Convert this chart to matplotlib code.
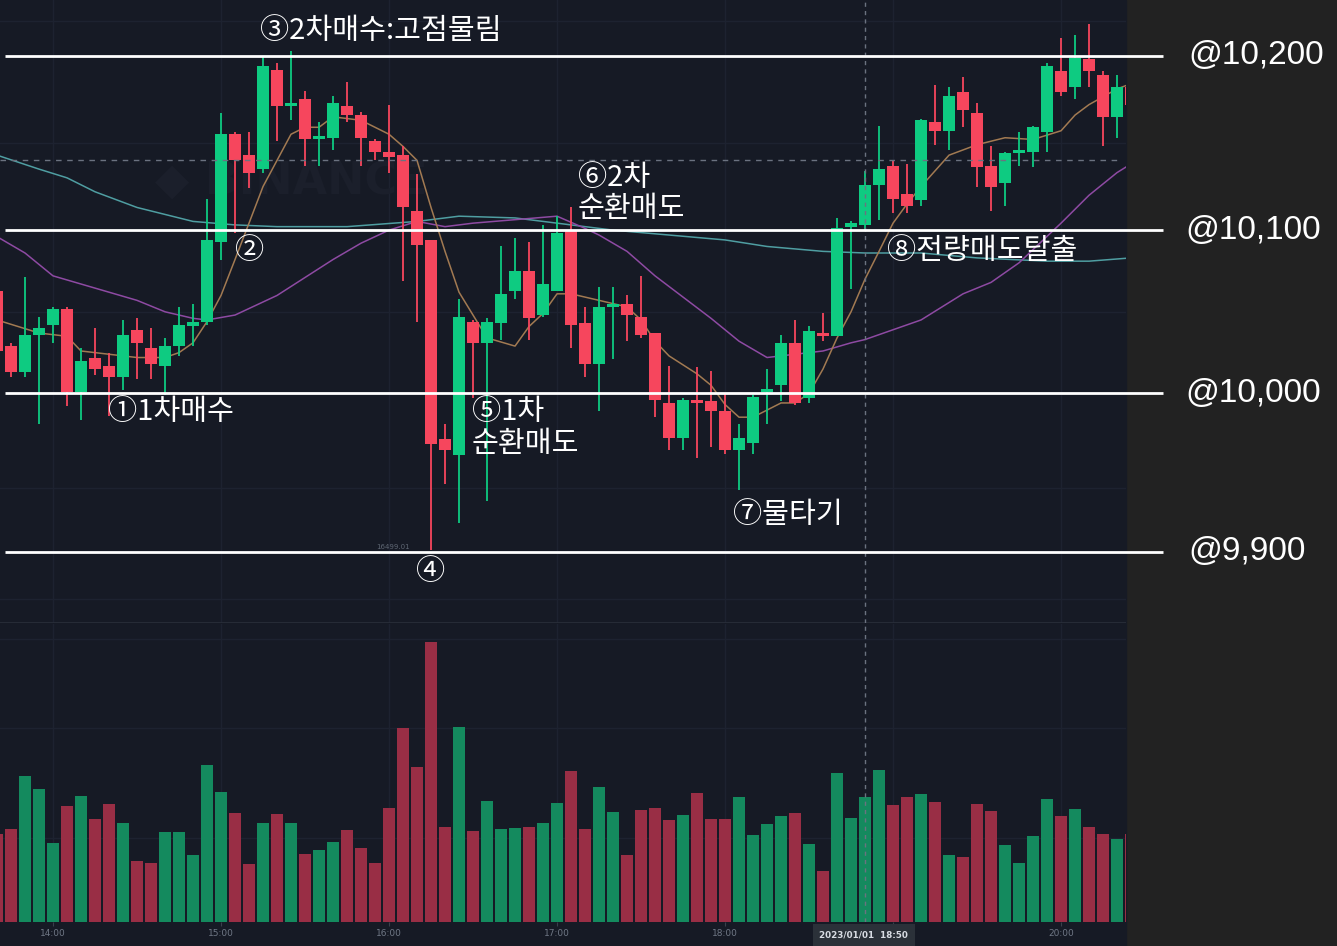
import numpy as np
import pandas as pd
import matplotlib
matplotlib.use('Agg')
import matplotlib.pyplot as plt

# 5분봉 데이터 (13:40 ~ 20:25)
opens = [10063, 10029, 10013, 10036, 10042, 10052, 10001, 10022, 10017, 10010,
         10039, 10028, 10017, 10029, 10041, 10044, 10093, 10155, 10143, 10135,
         10192, 10171, 10175, 10152, 10153, 10171, 10166, 10151, 10145, 10143,
         10111, 10094, 9971, 9961, 10044, 10031, 10043, 10063, 10075, 10048,
         10063, 10100, 10043, 10018, 10053, 10055, 10047, 10037, 9994, 9972,
         9996, 9995, 9989, 9964, 9969, 10001, 10005, 10031, 9997, 10037,
         10035, 10102, 10103, 10126, 10137, 10121, 10117, 10162, 10157, 10179,
         10167, 10137, 10127, 10144, 10145, 10156, 10191, 10182, 10198, 10189,
         10165, 10182]
highs = [10066, 10031, 10071, 10047, 10053, 10053, 10028, 10040, 10025, 10045,
         10046, 10040, 10034, 10053, 10055, 10118, 10167, 10156, 10156, 10200,
         10196, 10203, 10180, 10162, 10177, 10185, 10168, 10152, 10172, 10148,
         10132, 10094, 9981, 10058, 10045, 10046, 10090, 10095, 10093, 10103,
         10108, 10113, 10053, 10065, 10065, 10060, 10072, 10037, 10017, 9997,
         10016, 10014, 10000, 9981, 9999, 10015, 10036, 10045, 10041, 10049,
         10107, 10105, 10134, 10160, 10140, 10138, 10164, 10183, 10182, 10188,
         10173, 10148, 10145, 10156, 10160, 10196, 10210, 10212, 10218, 10191,
         10189, 10184]
lows = [10020, 10010, 10010, 9981, 10031, 9992, 9983, 10011, 9986, 10002,
        10009, 10009, 9999, 10023, 10029, 10042, 10082, 10098, 10124, 10133,
        10151, 10163, 10137, 10137, 10146, 10162, 10137, 10140, 10133, 10069,
        10044, 9901, 9943, 9918, 9997, 9932, 10033, 10058, 10033, 10047,
        10063, 10028, 10010, 9989, 10021, 10032, 10034, 9985, 9964, 9964,
        9959, 9966, 9962, 9939, 9962, 9981, 9995, 9993, 9994, 10032,
        10035, 10064, 10100, 10106, 10110, 10110, 10114, 10149, 10146, 10159,
        10125, 10111, 10114, 10137, 10136, 10145, 10177, 10175, 10182, 10148,
        10153, 10169]
closes = [10026, 10013, 10036, 10040, 10052, 10001, 10020, 10015, 10010, 10036,
          10031, 10018, 10029, 10042, 10044, 10094, 10155, 10140, 10133, 10194,
          10171, 10173, 10152, 10154, 10173, 10166, 10153, 10145, 10142, 10113,
          10091, 9968, 9964, 10047, 10031, 10044, 10061, 10075, 10046, 10067,
          10098, 10042, 10018, 10053, 10055, 10048, 10036, 9996, 9972, 9996,
          9994, 9989, 9964, 9972, 9998, 10003, 10031, 9994, 10038, 10035,
          10101, 10104, 10126, 10135, 10118, 10114, 10163, 10157, 10177, 10169,
          10136, 10125, 10144, 10146, 10159, 10194, 10179, 10199, 10191, 10165,
          10182, 10172]
volumes = [89, 94, 147, 134, 80, 117, 127, 104, 119, 100,
           61, 59, 91, 91, 67, 158, 131, 110, 58, 100,
           109, 100, 68, 72, 81, 93, 75, 59, 115, 195,
           156, 282, 96, 196, 92, 122, 94, 95, 96, 100,
           120, 152, 94, 136, 111, 67, 113, 115, 103, 108,
           130, 104, 104, 126, 88, 99, 107, 110, 79, 51,
           150, 105, 126, 153, 118, 126, 129, 121, 67, 65,
           119, 112, 78, 59, 87, 124, 107, 114, 96, 89,
           84, 89]
times = pd.date_range('2023-01-01 13:40', periods=len(opens), freq='5min')

# 이동평균선
ma7_idx = [0, 3, 5, 6, 7, 10, 12, 13, 14, 15, 16, 17, 18, 19, 20, 21, 22, 23, 24, 26,
           28, 29, 30, 31, 32, 33, 34, 35, 37, 38, 39, 40, 41, 44, 45, 46, 47, 48, 50, 51,
           52, 53, 54, 56, 57, 58, 59, 60, 61, 62, 63, 64, 65, 66, 68, 70, 72, 74, 76, 77,
           78, 80, 81]
ma7_val = [10045, 10037, 10035, 10026, 10025, 10022, 10022, 10025, 10031, 10044,
           10060, 10082, 10104, 10125, 10140, 10155, 10159, 10159, 10165, 10163,
           10155, 10148, 10140, 10113, 10087, 10062, 10048, 10034, 10029, 10041,
           10049, 10061, 10061, 10055, 10053, 10045, 10032, 10023, 10012, 10005,
           9993, 9985, 9985, 9994, 9994, 10000, 10015, 10034, 10050, 10070,
           10087, 10104, 10115, 10125, 10143, 10149, 10153, 10152, 10157, 10166,
           10172, 10181, 10184]
ma25_idx = [0, 2, 4, 6, 8, 10, 12, 14, 15, 17, 18, 20, 22, 24, 26, 28, 30, 32, 34, 37,
            40, 42, 43, 45, 47, 49, 51, 53, 55, 56, 59, 61, 62, 66, 69, 71, 73, 76, 78, 80, 81]
ma25_val = [10096, 10086, 10072, 10067, 10062, 10057, 10050, 10046, 10045, 10048,
            10052, 10060, 10071, 10082, 10092, 10100, 10105, 10102, 10104, 10106,
            10108, 10101, 10097, 10087, 10072, 10059, 10046, 10032, 10022, 10023,
            10026, 10031, 10033, 10045, 10061, 10068, 10080, 10104, 10120, 10133, 10138]
ma99_idx = [0, 3, 5, 7, 10, 12, 14, 17, 20, 25, 30, 33, 37, 39, 42, 44, 48, 52, 55, 59,
            62, 66, 70, 75, 78, 81]
ma99_val = [10143, 10135, 10130, 10122, 10113, 10109, 10105, 10103, 10102, 10102,
            10105, 10108, 10107, 10105, 10102, 10100, 10097, 10094, 10090, 10087,
            10086, 10086, 10083, 10081, 10081, 10083]

levels = [10200, 10100, 10000, 9900]
level_labels = ['@10,200', '@10,100', '@10,000', '@9,900']

# 메모 (문구, 봉 위치, 가격)
notes = [('③2차매수:고점물림', 18.8, 10214),
         ('②', 17.0, 10087),
         ('①1차매수', 7.9, 9988),
         ('④', 29.9, 9887),
         ('⑤1차', 33.9, 9988),
         ('순환매도', 33.9, 9968),
         ('⑥2차', 41.5, 10130),
         ('순환매도', 41.5, 10112),
         ('⑦물타기', 52.6, 9923),
         ('⑧전량매도탈출', 63.6, 10087)]

cross_idx = 62
cross_price = 10140

# 수평선 간격이 고르지 않아 가격축을 구간별로 맞춤
scale_prices = [9700, 9900, 10000, 10100, 10200, 10400]
scale_pos = [-867, -551, -393, -230, -56, 292]


def fwd(p):
    return np.interp(p, scale_prices, scale_pos)


def inv(v):
    return np.interp(v, scale_pos, scale_prices)


BG = '#161a25'
GRID = '#1d2230'
UP, DOWN = '#0ecb81', '#f6465d'
VUP, VDOWN = '#148a5e', '#992e45'
KR = ['Noto Sans CJK KR', 'DejaVu Sans']

W, H = 1337, 946
fig = plt.figure(figsize=(W / 100, H / 100), dpi=100, facecolor='#222222')
cw = 1126 / W
fig.patches.append(plt.Rectangle((0, 0), cw, 1, transform=fig.transFigure,
                                 color=BG, zorder=-5))

ax = fig.add_axes([0, 1 - 623 / H, cw, 623 / H])
axv = fig.add_axes([0, 24 / H, cw, 298 / H], sharex=ax)
for a in (ax, axv):
    a.set_facecolor('none')
    for s in a.spines.values():
        s.set_visible(False)

ax.set_yscale('function', functions=(fwd, inv))
ax.set_ylim(9855, 10232)
ax.set_xlim(0.214, 80.64)
ax.tick_params(left=False, labelleft=False, bottom=False, labelbottom=False)

x = np.arange(len(opens))
o, h, l, c = map(np.array, (opens, highs, lows, closes))
up = c >= o
cols = np.where(up, UP, DOWN)

# 격자
hours = [i for i, t in enumerate(times) if t.minute == 0]
for a in (ax, axv):
    for i in hours:
        a.axvline(i, color=GRID, lw=1, zorder=0)
for p in [9870, 9940, 10050, 10150, 10220]:
    ax.axhline(p, color=GRID, lw=1, zorder=0)
ax.axhline(9855, color='#2a2f3a', lw=1.2, zorder=0)
for v in [285, 195, 85]:
    axv.axhline(v, color=GRID, lw=1, zorder=0)

# 워터마크
ax.text(21.0, 10128, '◆ BINANCE', fontsize=32, fontweight='bold', color='#1b1f2b',
        ha='center', va='center', zorder=0.5)

# 이동평균선
ax.plot(ma99_idx, ma99_val, color='#4f9ea2', lw=1.1, zorder=1)
ax.plot(ma25_idx, ma25_val, color='#8e4aa3', lw=1.1, zorder=1)
ax.plot(ma7_idx, ma7_val, color='#a27a52', lw=1.1, zorder=1)

# 캔들
ax.vlines(x, l, h, colors=cols, lw=1.3, zorder=2)
body = np.maximum(np.abs(c - o), 1.5)
ax.bar(x, body, bottom=np.minimum(o, c), width=0.84, color=cols, zorder=3)

# 거래량
axv.bar(x, volumes, width=0.86, color=np.where(up, VUP, VDOWN), zorder=2)
axv.set_ylim(0, 300)
axv.tick_params(left=False, labelleft=False)
axv.set_xticks(hours)
# 19:00 라벨은 십자선 시각 상자에 가려짐
axv.set_xticklabels(['' if times[i].hour == 19 else times[i].strftime('%H:%M')
                     for i in hours])
axv.tick_params(axis='x', length=3, color='#3a404c', labelcolor='#6f7785',
                labelsize=6.5, pad=2)

# 십자선
ax.axhline(cross_price, xmax=0.995, color='#6b7280', lw=1, ls=(0, (4, 4)), zorder=4)
for a in (ax, axv):
    a.axvline(cross_idx, color='#6b7280', lw=1, ls=(0, (3, 3)), zorder=4)
axv.text(cross_idx - 0.1, -0.045, times[cross_idx].strftime('%Y/%m/%d  %H:%M'),
         transform=axv.get_xaxis_transform(), ha='center', va='center',
         fontsize=6.3, fontweight='bold', color='#d8dce3', zorder=10, clip_on=False,
         bbox=dict(boxstyle='square,pad=0.75', fc='#2b3139', ec='none'))

ax.text(28.3, 9903, '16499.01', fontsize=5, color='#5e6673', ha='center',
        va='center', zorder=2)

# 기준가 수평선과 라벨
ytr = ax.get_yaxis_transform()
ax.hlines(levels, 5 / 1126, 1163 / 1126, transform=ytr, colors='white', lw=2,
          zorder=5, clip_on=False)
for p, lab, px in zip(levels, level_labels, [1188, 1185, 1185, 1188]):
    ax.text(px / 1126, p, lab, transform=ytr, fontsize=24, color='white',
            family='Liberation Sans', ha='left', va='center', clip_on=False)

for txt, k, p in notes:
    ax.text(k, p, txt, fontsize=21, color='white', family=KR, ha='left',
            va='center', zorder=6, clip_on=False)

fig.savefig('out.png', dpi=100, facecolor=fig.get_facecolor())
